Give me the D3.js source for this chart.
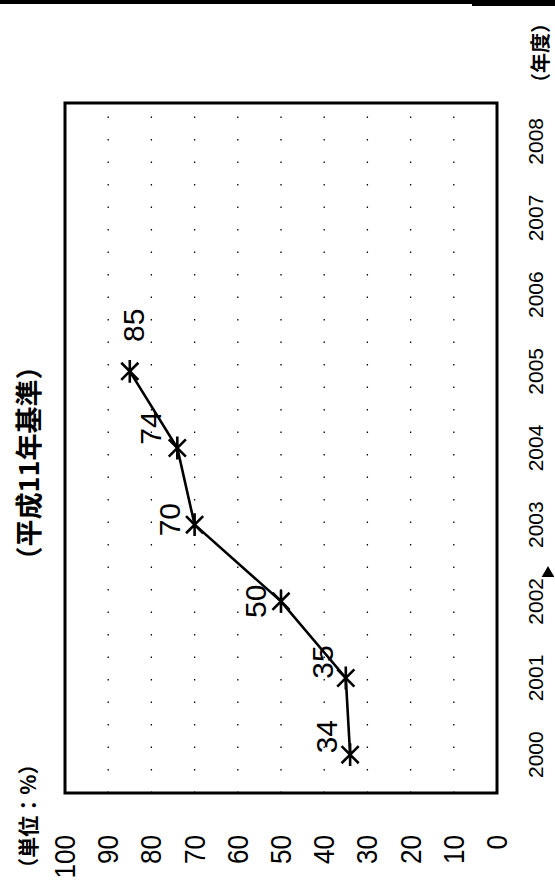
<!DOCTYPE html>
<html>
<head>
<meta charset="utf-8">
<style>
    body { margin: 0; background: #fff; }
    svg { display: block; font-family: "Liberation Sans", Arial, sans-serif; }
    .jp { font-family: "Noto Sans CJK JP", sans-serif; font-weight: bold; }
    .grid line { stroke: #000; stroke-width: 1.3; stroke-dasharray: 1.5, 21; }
</style>
</head>
<body>
<svg id="chart"></svg>
<script src="https://cdn.jsdelivr.net/npm/d3@7"></script>
<script>
    let width = 555,
        height = 883;

    const years = [2000, 2001, 2002, 2003, 2004, 2005, 2006, 2007, 2008]
    const ratioYears = [2000, 2001, 2002, 2003, 2004, 2005]
    const ratioValues = [34, 35, 50, 70, 74, 85]
    const valueTicks = [0, 10, 20, 30, 40, 50, 60, 70, 80, 90, 100]
    const unitLabel = "（単位：%）"
    const subTitle = "（平成11年基準）"
    const yearUnit = "（年度）"

    let svg = d3.select("#chart").attr("width", width).attr("height", height)

    // top edge of the scanned page
    svg.append("rect").attr("x", 0).attr("y", 0).attr("width", width).attr("height", 4).attr("fill", "#000")
    svg.append("rect").attr("x", 472).attr("y", 0).attr("width", width - 472).attr("height", 6).attr("fill", "#000")

    // the scan is turned a quarter turn: draw the chart upright and rotate it
    let chart = svg.append("g").attr("transform", `translate(0,${height}) rotate(-90)`)

    let x = d3.scalePoint().domain(years).range([90, 780]).padding(0.5)
    let y = d3.scaleLinear().domain([0, 100]).range([497, 65])

    chart.append("g")
        .attr("class", "grid")
        .selectAll("line")
        .data(valueTicks.filter(t => t > 0 && t < 100))
        .enter()
        .append("line")
        .attr("x1", 90).attr("x2", 780)
        .attr("y1", d => y(d)).attr("y2", d => y(d))

    chart.append("rect")
        .attr("x", 90).attr("y", y(100))
        .attr("width", 690).attr("height", y(0) - y(100))
        .attr("fill", "none").attr("stroke", "#000").attr("stroke-width", 3)

    chart.append("g")
        .selectAll("text")
        .data(valueTicks)
        .enter()
        .append("text")
        .attr("x", 48)
        .attr("y", d => y(d))
        .attr("text-anchor", "end")
        .attr("dominant-baseline", "central")
        .attr("font-size", 29)
        .attr("textLength", d => String(d).length * 14.5)
        .attr("lengthAdjust", "spacingAndGlyphs")
        .text(d => d)

    chart.append("g")
        .selectAll("text")
        .data(years)
        .enter()
        .append("text")
        .attr("x", d => x(d))
        .attr("y", 535)
        .attr("text-anchor", "middle")
        .attr("dominant-baseline", "central")
        .attr("font-size", 21)
        .text(d => d)

    let points = ratioYears.map((yr, i) => ({ year: yr, value: ratioValues[i] }))

    chart.append("path")
        .datum(points)
        .attr("fill", "none")
        .attr("stroke", "#000")
        .attr("stroke-width", 2.6)
        .attr("d", d3.line().x(d => x(d.year)).y(d => y(d.value)))

    // asterisk marker: one bar plus a cross
    let asterisk = {
        draw(ctx, size) {
            let r = Math.sqrt(size) / 2, k = r * 0.75
            ctx.moveTo(-r, 0); ctx.lineTo(r, 0)
            ctx.moveTo(-k, -k); ctx.lineTo(k, k)
            ctx.moveTo(-k, k); ctx.lineTo(k, -k)
        }
    }

    chart.append("g")
        .selectAll("path")
        .data(points)
        .enter()
        .append("path")
        .attr("transform", d => `translate(${x(d.year)},${y(d.value)})`)
        .attr("d", d3.symbol().type(asterisk).size(520))
        .attr("fill", "none")
        .attr("stroke", "#000")
        .attr("stroke-width", 2.6)

    let labelShift = [[18, -24], [16, -23], [0, -26], [5, -25], [20, -27], [46, 4]]

    chart.append("g")
        .selectAll("text")
        .data(points)
        .enter()
        .append("text")
        .attr("x", (d, i) => x(d.year) + labelShift[i][0])
        .attr("y", (d, i) => y(d.value) + labelShift[i][1])
        .attr("text-anchor", "middle")
        .attr("dominant-baseline", "central")
        .attr("font-size", 30)
        .text(d => d.value)

    chart.append("text").attr("class", "jp")
        .attr("x", 420).attr("y", 27)
        .attr("text-anchor", "middle").attr("dominant-baseline", "central")
        .attr("font-size", 27)
        .text(subTitle)

    chart.append("text").attr("class", "jp")
        .attr("x", 67).attr("y", 27)
        .attr("text-anchor", "middle").attr("dominant-baseline", "central")
        .attr("font-size", 21)
        .text(unitLabel)

    chart.append("text").attr("class", "jp")
        .attr("x", 830).attr("y", 539)
        .attr("text-anchor", "middle").attr("dominant-baseline", "central")
        .attr("font-size", 20)
        .text(yearUnit)

    // small arrow mark beside 2002
    svg.append("path")
        .attr("transform", `translate(548,${height - x(2002) - 28})`)
        .attr("d", d3.symbol().type(d3.symbolTriangle).size(70))
        .attr("fill", "#000")
</script>
</body>
</html>
